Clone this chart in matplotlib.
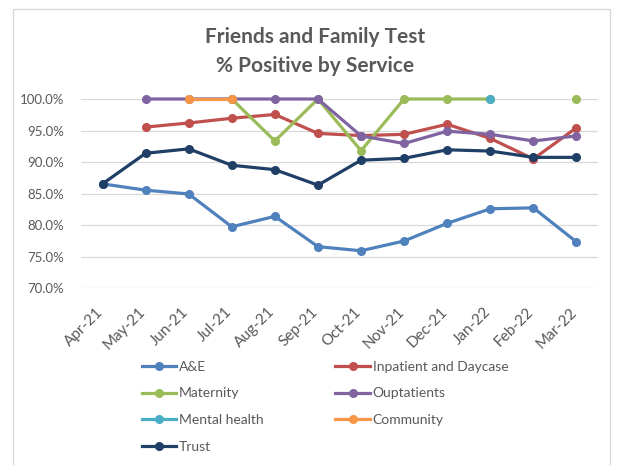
import numpy as np
import matplotlib
matplotlib.use("Agg")
import matplotlib.pyplot as plt
from matplotlib.patches import Rectangle
from matplotlib.ticker import FuncFormatter
from matplotlib.transforms import ScaledTranslation

nan = np.nan
months = ["Apr-21", "May-21", "Jun-21", "Jul-21", "Aug-21", "Sep-21",
          "Oct-21", "Nov-21", "Dec-21", "Jan-22", "Feb-22", "Mar-22"]

ae = [86.55, 85.55, 84.95, 79.75, 81.4, 76.6, 75.95, 77.5, 80.3, 82.6, 82.75, 77.35]
inpatient = [nan, 95.55, 96.2, 96.95, 97.55, 94.55, 94.2, 94.4, 96.0, 93.75, 90.5, 95.45]
maternity = [nan, nan, nan, 100.0, 93.35, 100.0, 91.8, 100.0, 100.0, 100.0, nan, 100.0]
outpatients = [nan, 100.0, 100.0, 100.0, 100.0, 100.0, 94.15, 92.95, 94.9, 94.4, 93.35, 94.15]
mental_health = [nan, nan, nan, nan, nan, nan, nan, nan, nan, 100.0, nan, nan]
community = [nan, nan, 100.0, 100.0, nan, nan, nan, nan, nan, nan, nan, nan]
trust = [86.55, 91.4, 92.1, 89.5, 88.8, 86.35, 90.3, 90.6, 91.95, 91.75, 90.75, 90.75]

series = [
    ("A&E", ae, "#4F81BD"),
    ("Inpatient and Daycase", inpatient, "#C0504D"),
    ("Maternity", maternity, "#9BBB59"),
    ("Ouptatients", outpatients, "#8064A2"),
    ("Mental health", mental_health, "#4BACC6"),
    ("Community", community, "#F79646"),
    ("Trust", trust, "#1F3F66"),
]

plt.rcParams['font.family'] = ['Lato', 'DejaVu Sans']
txt = "#595959"

W, H = 617, 465
fig = plt.figure(figsize=(W / 100, H / 100), dpi=100)
fig.patches.append(Rectangle((13 / W, -0.1), (610 - 13) / W, 1.1 - 9 / H,
                             transform=fig.transFigure, fill=False,
                             edgecolor="#D9D9D9", linewidth=1.0))

ax = fig.add_axes([81 / W, 1 - 288.3 / H, (598 - 81) / W, (288.3 - 99) / H])
x = np.arange(len(months))
handles = {}
for name, vals, col in series:
    h, = ax.plot(x, vals, color=col, linewidth=2.3, marker="o", markersize=5.5,
                 label=name, zorder=3, clip_on=False)
    handles[name] = h

ax.set_xlim(-0.5, len(months) - 0.5)
ax.set_ylim(70, 100)
ax.set_yticks(np.arange(70, 100.1, 5))
ax.yaxis.set_major_formatter(FuncFormatter(lambda v, p: f"{v:.1f}%"))
ax.set_xticks(x)
ax.set_xticklabels(months, rotation=45, ha="right", va="center", rotation_mode="anchor")
ax.tick_params(axis="both", length=0, colors=txt)
ax.tick_params(axis="y", pad=12, labelsize=9.5)
ax.tick_params(axis="x", pad=15.5, labelsize=11)
off = ScaledTranslation(-2 / 100, 0, fig.dpi_scale_trans)
for lab in ax.get_xticklabels():
    lab.set_transform(lab.get_transform() + off)
ax.grid(axis="y", color="#D9D9D9", linewidth=0.9)
ax.set_axisbelow(True)
for s in ax.spines.values():
    s.set_visible(False)

fig.text(0.51, 1 - 37 / H, "Friends and Family Test", ha="center", va="center",
         fontsize=15, fontweight="bold", color=txt)
fig.text(0.51, 1 - 66 / H, "% Positive by Service", ha="center", va="center",
         fontsize=15, fontweight="bold", color=txt)

order = ["A&E", "Maternity", "Mental health", "Trust",
         "Inpatient and Daycase", "Ouptatients", "Community"]
leg = fig.legend([handles[n] for n in order], order, ncol=2,
                 loc="upper left", bbox_to_anchor=(129 / W, 1 - 348 / H),
                 frameon=False, fontsize=10, handlelength=2.5, handletextpad=0.2,
                 columnspacing=5.15, labelspacing=1.07, labelcolor=txt)

fig.savefig("out.png", dpi=100)
